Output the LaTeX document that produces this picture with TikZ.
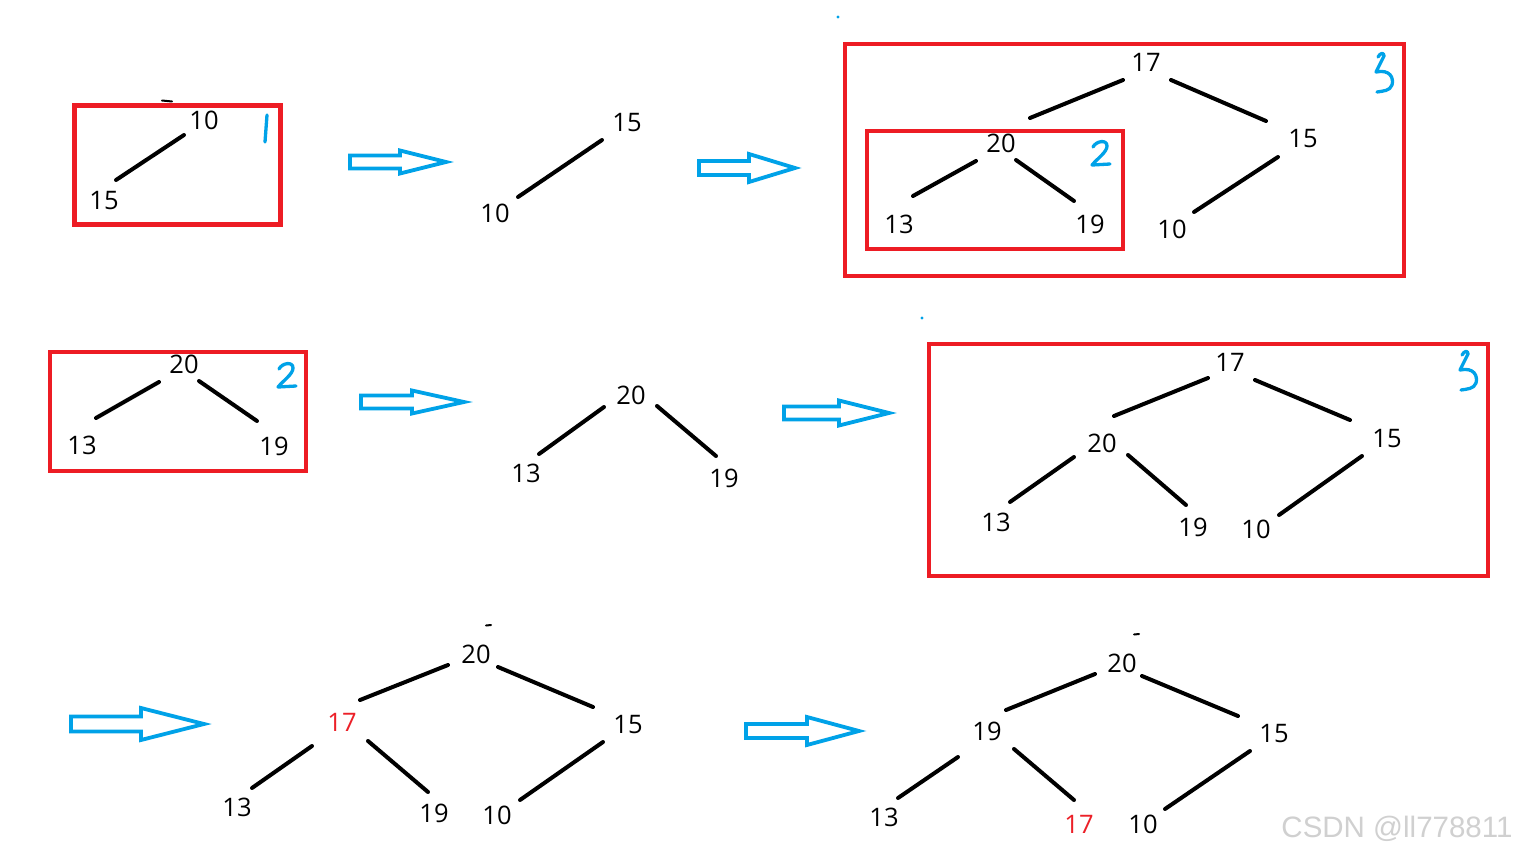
\documentclass[tikz,border=0pt]{standalone}
\usepackage{fontspec}
\setmainfont{Open Sans}
\newfontfamily\wmfont{Liberation Sans}
\definecolor{boxred}{HTML}{ED1C24}
\definecolor{txtred}{HTML}{EC2028}
\definecolor{penblue}{HTML}{00A2E8}
\definecolor{wmgray}{HTML}{D0D0D0}
\newcommand\lnk[4]{\draw[edge] ([shift={(#2)}]#1.center) -- ([shift={(#4)}]#3.center);}
\newcommand\blockarrow[6]{\draw[harrow] (#1,#4-#5) -- (#2,#4-#5) -- (#2,#4-#6) -- (#3,#4) -- (#2,#4+#6) -- (#2,#4+#5) -- (#1,#4+#5) -- cycle;}
\newcommand\handtwo[1]{\draw[hand,shift={(#1)}] (3,7) .. controls (6,1) and (17,-1) .. (17,6) .. controls (17,12) and (8,18) .. (2,25) -- (20,24);}
\newcommand\handthree[1]{\draw[hand,shift={(#1)}] (5,4) .. controls (7,0) and (11,-1) .. (11,3) -- (3,19) .. controls (17,16) and (21,25) .. (19,32) .. controls (17,38) and (10,38) .. (4,39);}
\begin{document}
\begin{tikzpicture}[x=1pt,y=-1pt,
  num/.style={inner sep=0pt, font=\fontsize{25.5}{25.5}\selectfont},
  rnum/.style={num, text=txtred},
  edge/.style={line width=4pt, line cap=round},
  redbox/.style={draw=boxred, line width=4.5pt},
  harrow/.style={draw=penblue, line width=3.8pt, line join=miter},
  hand/.style={draw=penblue, line width=3.3pt, line cap=round, line join=round},
  speck/.style={line width=2pt, line cap=round}]
\useasboundingbox[fill=white] (0,0) rectangle (1517,856);

% ---------- Row 1 ----------
\draw[redbox] (74.5,105.5) rectangle (280.5,224.5);
\draw[speck] (162,100.5) -- (172,101.5);
\node[num] (a10) at (204,120) {10};
\node[num] (a15) at (104,201) {15};
\lnk{a10}{-20,15}{a15}{12,-21}
\draw[hand] (267,115) -- (265,142);

\blockarrow{350}{400}{446}{162}{6.5}{11.5}

\node[num] (b15) at (627,123) {15};
\node[num] (b10) at (495,213) {10};
\lnk{b15}{-25,17}{b10}{23,-16}

\blockarrow{699}{749}{795}{168}{7}{14}

\fill[penblue] (838,17) circle (1.6);
\draw[redbox] (845,44) rectangle (1404,276);
\draw[redbox] (867,131) rectangle (1123,249);
\node[num] (c17) at (1146,62) {17};
\node[num] (c20) at (1001,143) {20};
\node[num] (c15) at (1303,139) {15};
\node[num] (c13) at (899,224) {13};
\node[num] (c19) at (1090,224) {19};
\node[num] (c10) at (1172,229) {10};
\lnk{c17}{-23,18}{c20}{29,-25}
\lnk{c17}{25,18}{c15}{-37,-18}
\lnk{c15}{-25,18}{c10}{22,-17}
\lnk{c20}{-25,18}{c13}{14,-28}
\lnk{c20}{15,17}{c19}{-16,-23}
\handtwo{1090,140}
\handthree{1373,53}

% ---------- Row 2 ----------
\draw[redbox] (50,352) rectangle (306,471);
\node[num] (d20) at (184,364) {20};
\node[num] (d13) at (82,445) {13};
\node[num] (d19) at (274,446) {19};
\lnk{d20}{-25,18}{d13}{14,-27}
\lnk{d20}{15,17}{d19}{-17,-25}
\handtwo{276,362}

\blockarrow{361}{412}{464}{402}{6.5}{11.5}

\node[num] (e20) at (631,395) {20};
\node[num] (e13) at (526,473) {13};
\node[num] (e19) at (724,478) {19};
\lnk{e20}{-27,12}{e13}{13,-19}
\lnk{e20}{26,11}{e19}{-8,-22}

\blockarrow{784}{839}{889}{413}{6.5}{12.5}

\fill[penblue] (922,318) circle (1.6);
\draw[redbox] (929,344) rectangle (1488,576);
\node[num] (f17) at (1230,362) {17};
\node[num] (f15) at (1387,439) {15};
\node[num] (f20) at (1102,443) {20};
\node[num] (f13) at (996,522) {13};
\node[num] (f19) at (1193,527) {19};
\node[num] (f10) at (1256,529) {10};
\lnk{f17}{-22,16}{f20}{12,-27}
\lnk{f17}{25,18}{f15}{-37,-19}
\lnk{f20}{-28,14}{f13}{14,-20}
\lnk{f20}{26,12}{f19}{-7,-22}
\lnk{f15}{-25,17}{f10}{23,-14}
\handthree{1457,351}

% ---------- Row 3 ----------
\blockarrow{71}{141}{204}{724}{7.5}{16}

\draw[speck] (486,625.5) -- (491,625);
\node[num] (g20) at (476,654) {20};
\node[rnum] (g17) at (342,722) {17};
\node[num] (g15) at (628,725) {15};
\node[num] (g13) at (237,807) {13};
\node[num] (g19) at (434,813) {19};
\node[num] (g10) at (497,815) {10};
\lnk{g20}{-28,11}{g17}{18,-22}
\lnk{g20}{22,13}{g15}{-35,-18}
\lnk{g17}{-30,24}{g13}{15,-19}
\lnk{g17}{26,19}{g19}{-6,-21}
\lnk{g15}{-25,17}{g10}{23,-15}

\blockarrow{746}{807}{859}{731}{7}{14}

\draw[speck] (1134,634.5) -- (1139,634);
\node[num] (h20) at (1122,663) {20};
\node[num] (h19) at (987,731) {19};
\node[num] (h15) at (1274,734) {15};
\node[num] (h13) at (884,817) {13};
\node[rnum] (h17) at (1079,824) {17};
\node[num] (h10) at (1143,824) {10};
\lnk{h20}{-27,11}{h19}{19,-21}
\lnk{h20}{20,13}{h15}{-36,-18}
\lnk{h19}{-29,26}{h13}{14,-19}
\lnk{h19}{27,18}{h17}{-5,-24}
\lnk{h15}{-24,17}{h10}{22,-15}

\node[inner sep=0pt, text=wmgray, font=\wmfont\fontsize{29.5}{29.5}\selectfont] (wm) at (1397,829) {CSDN @ll778811};
\end{tikzpicture}
\end{document}
